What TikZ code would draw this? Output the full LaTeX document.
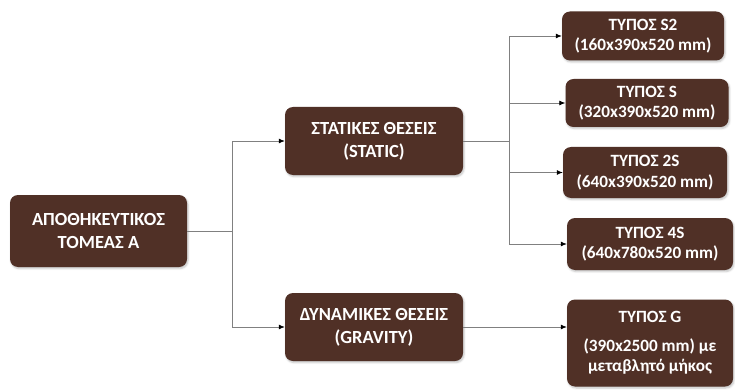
\documentclass[tikz,border=0pt]{standalone}
\usepackage{fontspec}
\setmainfont{Carlito}
\usetikzlibrary{arrows.meta,shadows.blur}
\definecolor{boxbrown}{RGB}{80,48,38}
\definecolor{linegray}{RGB}{128,128,128}
\tikzset{
  box/.style={fill=boxbrown, rounded corners=8pt, text=white, align=center,
    font=\bfseries\fontsize{18.5}{23}\selectfont, inner sep=0pt,
    blur shadow={shadow xshift=1pt, shadow yshift=-1.5pt, shadow opacity=25, shadow blur steps=4}},
  leaf/.style={box, font=\bfseries\fontsize{17.2}{20.5}\selectfont},
  conn/.style={draw=linegray, line width=0.8pt},
  arr/.style={conn, -{Latex[length=6pt,width=5pt,color=black]}}
}
\begin{document}
\begin{tikzpicture}[x=1pt,y=-1pt]
\useasboundingbox (0,0) rectangle (735,390);

% main category boxes
\node[box, minimum width=177pt, minimum height=72pt] (store) at (98.5,231) {ΑΠΟΘΗΚΕΥΤΙΚΟΣ\\ΤΟΜΕΑΣ Α};
\node[box, minimum width=178pt, minimum height=68pt] (static) at (374,141) {ΣΤΑΤΙΚΕΣ ΘΕΣΕΙΣ\\(STATIC)};
\node[box, minimum width=178pt, minimum height=68pt] (dyn) at (374,327) {ΔΥΝΑΜΙΚΕΣ ΘΕΣΕΙΣ\\(GRAVITY)};

% type boxes
\node[leaf, minimum width=162pt, minimum height=49pt] (ts2) at (643,36) {ΤΥΠΟΣ S2\\(160x390x520 mm)};
\node[leaf, minimum width=163pt, minimum height=48pt] (ts) at (647,103) {ΤΥΠΟΣ S\\(320x390x520 mm)};
\node[leaf, minimum width=164pt, minimum height=51pt] (t2s) at (645,172.5) {ΤΥΠΟΣ 2S\\(640x390x520 mm)};
\node[leaf, minimum width=166pt, minimum height=52pt] (t4s) at (650,244) {ΤΥΠΟΣ 4S\\(640x780x520 mm)};
\node[leaf, minimum width=166pt, minimum height=87pt] (tg) at (650,343) {ΤΥΠΟΣ G\\[8pt](390x2500 mm) με\\μεταβλητό μήκος};

% junctions
\coordinate (j1) at (232,231);
\coordinate (j2) at (509,141);

% connectors
\draw[conn] (store.east) -- (j1);
\draw[arr] (j1) |- (static.west);
\draw[arr] (j1) |- (dyn.west);
\draw[conn] (static.east) -- (j2);
\draw[arr] (j2) |- (ts2.west);
\draw[arr] (j2) |- (ts.west);
\draw[arr] (j2) |- (t2s.west);
\draw[arr] (j2) |- (t4s.west);
\draw[arr] (dyn.east) -- (dyn.east -| tg.west);
\end{tikzpicture}
\end{document}
